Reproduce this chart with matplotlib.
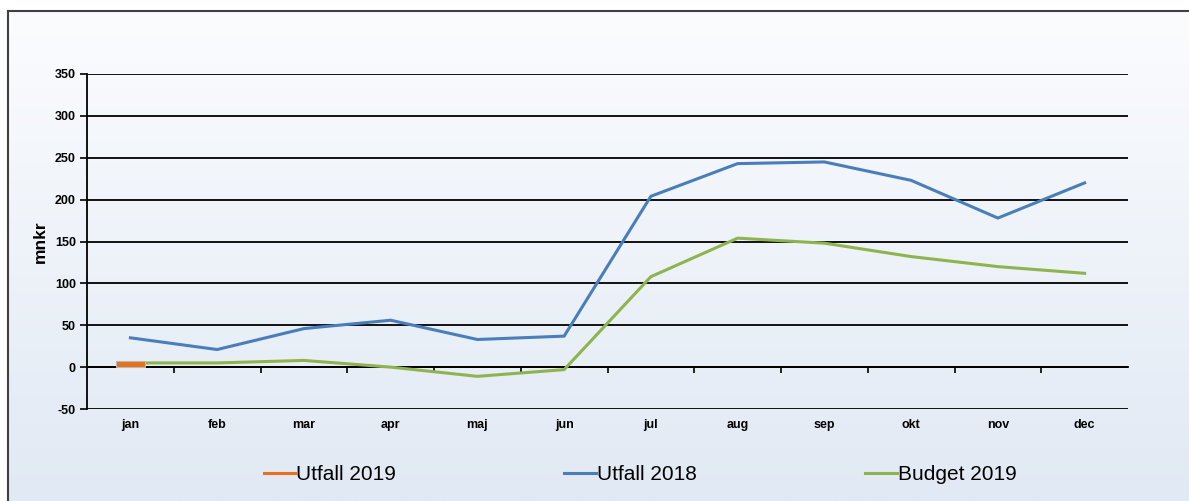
import numpy as np
import matplotlib
matplotlib.use('Agg')
import matplotlib.pyplot as plt
from matplotlib.colors import LinearSegmentedColormap
import matplotlib.transforms as mtransforms

# monthly values, mnkr
months = ['jan', 'feb', 'mar', 'apr', 'maj', 'jun', 'jul', 'aug', 'sep', 'okt', 'nov', 'dec']
utfall_2019 = [7]
utfall_2018 = [35, 21, 46, 56, 33, 37, 204, 243, 245, 223, 178, 220]
budget_2019 = [5, 5, 8, 0, -11, -3, 108, 154, 148, 132, 120, 112]

plt.rcParams['font.family'] = ['Liberation Sans', 'DejaVu Sans']
plt.rcParams['axes.unicode_minus'] = False

fig = plt.figure(figsize=(11.89, 5.01), dpi=100)

# gradient background inside the frame
bg = fig.add_axes([8 / 1189, 0, 1 - 8 / 1189, 1 - 11 / 501])
cmap = LinearSegmentedColormap.from_list('bg', ['#fbfcfe', '#e1e9f4'])
bg.imshow(np.linspace(0, 1, 256).reshape(-1, 1), aspect='auto', cmap=cmap,
          extent=[0, 1, 0, 1])
bg.set_xlim(0, 1)
bg.set_ylim(0, 1)
bg.set_xticks([])
bg.set_yticks([])
for side in ['right', 'bottom']:
    bg.spines[side].set_visible(False)
for side in ['left', 'top']:
    bg.spines[side].set_color('#404040')
    bg.spines[side].set_linewidth(1.5)

ax = fig.add_axes([87 / 1189, 1 - 409 / 501, (1128 - 87) / 1189, (409 - 74) / 501])
ax.set_facecolor('none')

x = np.arange(len(months))
ax.plot(x, utfall_2018, color='#4a7ebb', lw=2.2, zorder=4)
ax.plot(x, budget_2019, color='#8fb34f', lw=2.2, zorder=4)
ax.bar(x[:len(utfall_2019)], utfall_2019, width=0.34, color='#e8711a',
       edgecolor='#b8b8b8', linewidth=0.8, zorder=5)

ax.set_xlim(-0.5, 11.5)
ax.set_ylim(-50, 350)
ax.set_yticks(np.arange(-50, 351, 50))
ax.yaxis.grid(True, color='black', lw=1.3)
ax.set_axisbelow(True)
ax.tick_params(axis='y', length=5, width=1.2, labelsize=9, pad=3)
for lab in ax.get_yticklabels():
    lab.set_fontweight('bold')

ax.spines['top'].set_visible(False)
ax.spines['right'].set_visible(False)
ax.spines['left'].set_linewidth(1.3)
ax.spines['bottom'].set_position(('data', 0))
ax.spines['bottom'].set_linewidth(1.3)
ax.set_xticks(x[:-1] + 0.5)
ax.set_xticklabels([])
ax.tick_params(axis='x', length=4, width=1.2, direction='out')

trans = mtransforms.blended_transform_factory(ax.transData, ax.transAxes)
for xi, m in zip(x, months):
    ax.text(xi, -0.03, m, transform=trans, ha='center', va='top',
            fontsize=9, fontweight='bold')

ax.set_ylabel('mnkr', fontsize=12.5, fontweight='bold', labelpad=5)

handles = [plt.Line2D([], [], color='#e8711a', lw=2.2),
           plt.Line2D([], [], color='#4a7ebb', lw=2.2),
           plt.Line2D([], [], color='#8fb34f', lw=2.2)]
fig.legend(handles, ['Utfall 2019', 'Utfall 2018', 'Budget 2019'],
           loc='center', bbox_to_anchor=(640 / 1189, 1 - 475 / 501), ncol=3,
           frameon=False, handlelength=1.5, handletextpad=0.05,
           columnspacing=8.1,
           prop={'family': ['Liberation Sans Narrow', 'Liberation Sans'], 'size': 15})

fig.savefig('out.png', dpi=100)
